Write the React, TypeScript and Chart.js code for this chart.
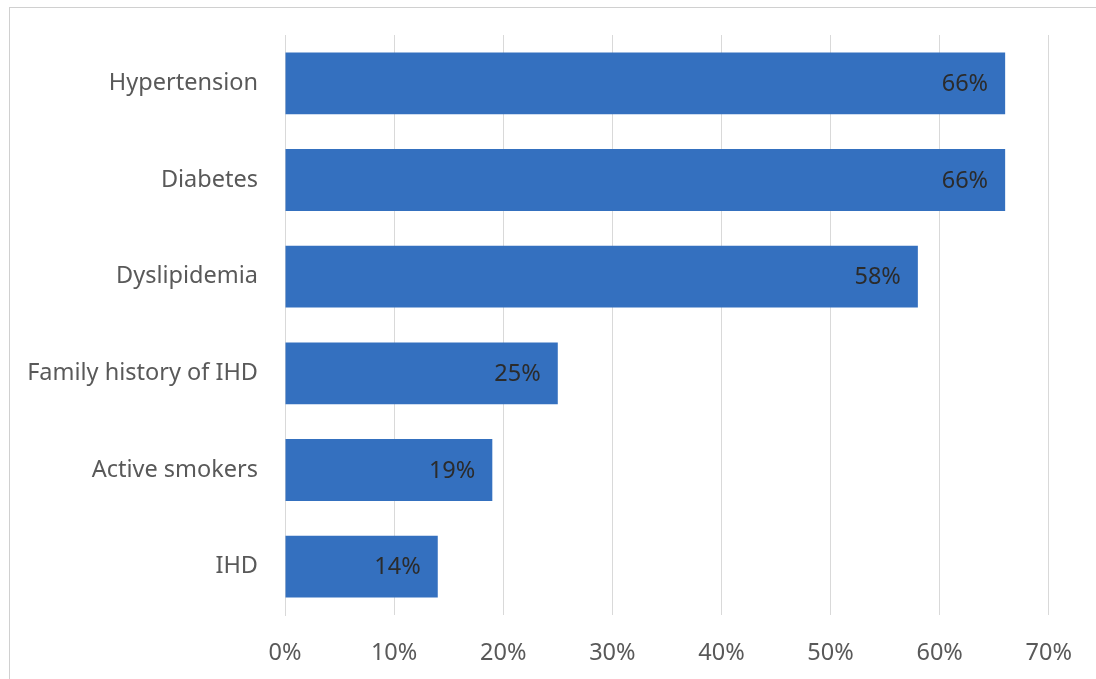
import React, { useEffect, useRef } from "react";
import { Chart, registerables } from "chart.js";

Chart.register(...registerables);

const categories = ["Hypertension", "Diabetes", "Dyslipidemia", "Family history of IHD", "Active smokers", "IHD"];
const values = [66, 66, 58, 25, 19, 14];
const xTicks = [0, 10, 20, 30, 40, 50, 60, 70];

const FONT = "'Noto Sans', 'Open Sans', sans-serif";
const FS = 23.5;

const dataLabelPlugin = {
  id: "dataLabels",
  afterDatasetsDraw(chart: any) {
    const ctx = chart.ctx;
    const meta = chart.getDatasetMeta(0);
    ctx.save();
    ctx.font = `${FS}px ${FONT}`;
    ctx.fillStyle = "#2b2b2b";
    ctx.textAlign = "right";
    ctx.textBaseline = "middle";
    meta.data.forEach((bar: any, i: number) => {
      ctx.fillText(`${values[i]}%`, bar.x - 17, bar.y + 1);
    });
    ctx.restore();
  },
};

export default function App() {
  const ref = useRef<HTMLCanvasElement | null>(null);
  useEffect(() => {
    if (!ref.current) return;
    const chart = new Chart(ref.current, {
      type: "bar",
      data: {
        labels: categories,
        datasets: [
          {
            data: values,
            backgroundColor: "#3470bf",
            borderWidth: 0,
            barPercentage: 0.64,
            categoryPercentage: 1,
          },
        ],
      },
      options: {
        indexAxis: "y",
        animation: false,
        responsive: false,
        layout: { padding: { top: 35, right: 47, left: 0, bottom: 0 } },
        plugins: { legend: { display: false }, tooltip: { enabled: false } },
        scales: {
          x: {
            min: 0,
            max: 70,
            afterBuildTicks(scale: any) {
              scale.ticks = xTicks.map((v) => ({ value: v }));
            },
            afterFit(scale: any) {
              scale.height = 64;
            },
            grid: { color: "#d9d9d9", lineWidth: 1, drawTicks: false },
            border: { display: false },
            ticks: {
              padding: 24,
              color: "#595959",
              font: { family: FONT, size: FS },
              callback: (v: any) => `${v}%`,
            },
          },
          y: {
            afterFit(scale: any) {
              scale.width = 285;
              scale.paddingTop = 0;
              scale.paddingBottom = 0;
            },
            grid: { display: false, drawTicks: false },
            border: { display: true, color: "#d9d9d9" },
            ticks: {
              padding: 27,
              color: "#595959",
              font: { family: FONT, size: FS },
            },
          },
        },
      },
      plugins: [dataLabelPlugin],
    });
    return () => chart.destroy();
  }, []);
  return (
    <div style={{ position: "absolute", left: 0, top: 0, width: 1096, height: 679, background: "#fff", overflow: "hidden" }}>
      <div style={{ position: "absolute", left: 9, top: 7, width: 1200, height: 800, border: "1px solid #d0d0d0", boxSizing: "border-box" }} />
      <canvas ref={ref} width={1096} height={679} style={{ position: "absolute", left: 0, top: 0 }} />
    </div>
  );
}
